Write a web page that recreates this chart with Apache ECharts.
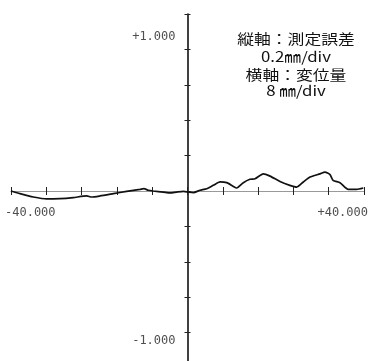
<!DOCTYPE html>
<html><head><meta charset="utf-8">
<script src="https://cdn.jsdelivr.net/npm/echarts@6/dist/echarts.min.js"></script>
<style>html,body{margin:0;padding:0;background:#fff;}#c{width:374px;height:361px;}</style>
</head><body><div id="c"></div>
<script>
// displacement (mm)
const xs = [-40.0,-37.96,-34.94,-31.92,-28.9,-25.9,-22.85,-21.7,-19.83,-16.8,-13.8,-10.77,-9.86,-8.88,-7.75,-5.48,-3.97,-2.46,-0.95,0.19,1.32,2.83,4.34,5.85,7.37,8.88,10.39,11.14,12.65,14.16,15.3,17.18,18.7,20.96,23.2,24.75,26.25,27.76,30.03,31.16,32.3,33.0,34.56,36.44,38.35,39.84];
// measurement error (mm)
const ys = [0,-0.015,-0.034,-0.045,-0.043,-0.037,-0.028,-0.034,-0.028,-0.015,-0.002,0.009,0.013,0.004,0,-0.006,-0.011,-0.006,-0.002,-0.006,-0.009,0.004,0.013,0.032,0.051,0.047,0.026,0.017,0.047,0.066,0.069,0.097,0.084,0.054,0.032,0.022,0.051,0.079,0.097,0.107,0.092,0.06,0.047,0.009,0.009,0.017];
const xTickLabels = [-40, 40];
const yTickLabels = [1, -1];
const noteLines = ['縦軸：測定誤差', '0.2㎜/div', '横軸：変位量', '8 ㎜/div'];

const data = xs.map((x, i) => [x, ys[i]]);
const mono = 'DejaVu Sans Mono';
const fmt = v => (v > 0 ? '+' : '') + v.toFixed(3);
const lblStyle = {show: true, position: 'inside', fontFamily: mono, fontSize: 12, color: '#222'};
const labelPoints = [
  ...xTickLabels.map(v => ({value: [v, 0], label: {...lblStyle, formatter: fmt(v), align: v < 0 ? 'left' : 'right', verticalAlign: 'middle', offset: [v < 0 ? -6 : 4, 22]}})),
  ...yTickLabels.map(v => ({value: [0, v], label: {...lblStyle, formatter: fmt(v), align: 'right', verticalAlign: 'middle', offset: [-12, v > 0 ? 23 : -27]}}))
];
const chart = echarts.init(document.getElementById('c'));
chart.setOption({
  animation: false,
  backgroundColor: '#fff',
  grid: {left: 11, right: 10, top: 14, bottom: -7, containLabel: false, outerBoundsMode: 'none'},
  xAxis: [{
    type: 'value', min: -40, max: 40, interval: 8, position: 'bottom',
    axisLine: {onZero: true, lineStyle: {color: '#999', width: 1}},
    axisTick: {length: 4, lineStyle: {color: '#222', width: 1}},
    splitLine: {show: false}, axisLabel: {show: false}
  }, {
    type: 'value', min: -40, max: 40, interval: 8, position: 'bottom',
    axisLine: {show: false, onZero: true},
    axisTick: {inside: true, length: 4, lineStyle: {color: '#222', width: 1}},
    splitLine: {show: false}, axisLabel: {show: false}
  }],
  yAxis: [{
    type: 'value', min: -1, max: 1, interval: 0.2, position: 'left',
    axisLine: {onZero: true, lineStyle: {color: '#111', width: 1.6}},
    axisTick: {length: 3, lineStyle: {color: '#222', width: 1}},
    splitLine: {show: false}, axisLabel: {show: false}
  }, {
    type: 'value', min: -1, max: 1, interval: 0.2, position: 'left',
    axisLine: {show: false, onZero: true},
    axisTick: {inside: true, length: 3, lineStyle: {color: '#222', width: 1}},
    splitLine: {show: false}, axisLabel: {show: false}
  }],
  series: [{
    type: 'line', xAxisIndex: 0, yAxisIndex: 0, data: data,
    showSymbol: false, smooth: 0.2,
    lineStyle: {color: '#111', width: 1.7}
  }, {
    type: 'scatter', xAxisIndex: 0, yAxisIndex: 0, data: labelPoints,
    symbolSize: 0, silent: true, clip: false,
    itemStyle: {color: 'transparent'}
  }],
  graphic: noteLines.map((t, i) => ({
    type: 'text', x: 296, y: [39, 57, 75, 91][i], scaleX: 1.2,
    style: {text: t, fontFamily: 'Noto Sans CJK JP', fontSize: 14, fill: '#111', textAlign: 'center', textVerticalAlign: 'middle'}
  }))
});
</script></body></html>
